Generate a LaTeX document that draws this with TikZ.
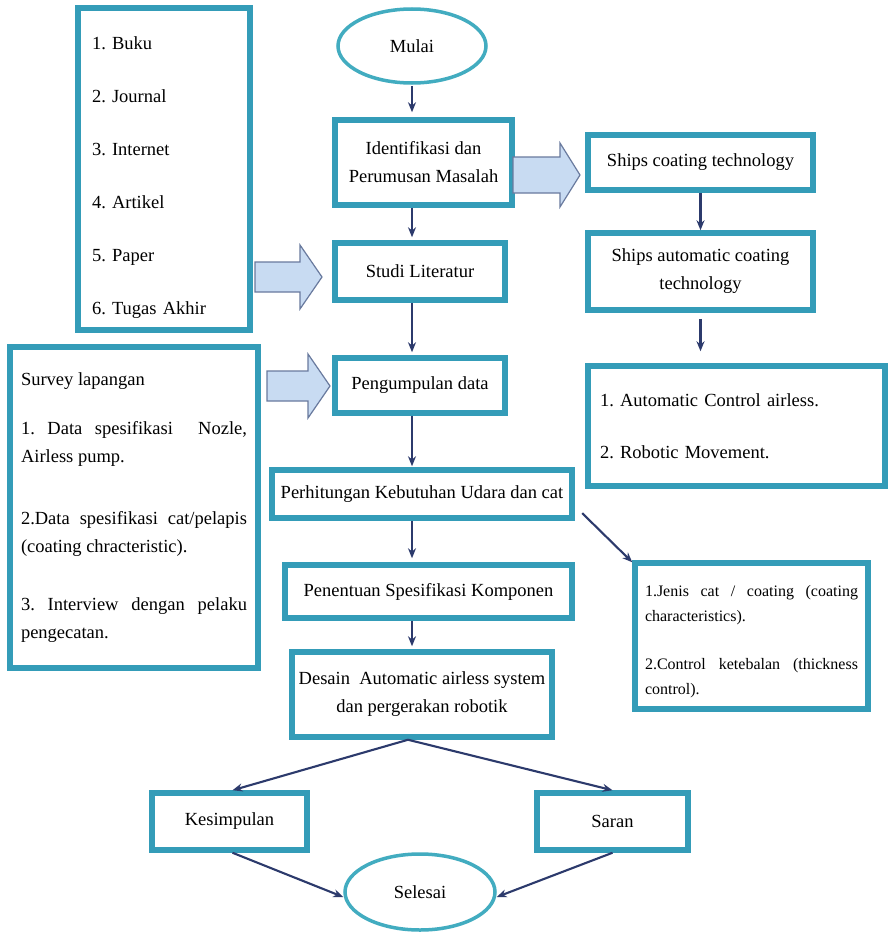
\documentclass[tikz,border=0pt]{standalone}
\usepackage{fontspec}
\setmainfont{Liberation Serif}
\usetikzlibrary{arrows.meta,shapes.geometric}
\definecolor{teal1}{RGB}{52,156,184}
\definecolor{teal2}{RGB}{66,172,192}
\definecolor{navy}{RGB}{44,58,108}
\definecolor{bafill}{RGB}{200,219,242}
\definecolor{badraw}{RGB}{105,122,158}
\frenchspacing
\tikzset{
  boxnode/.style={draw=teal1, line width=5.5pt, fill=white, rectangle, align=center, inner sep=4pt,
    font=\fontsize{18.5}{28}\selectfont},
  ovalnode/.style={draw=teal2, line width=3.5pt, fill=white, ellipse, inner sep=0pt,
    font=\fontsize{18.5}{22}\selectfont},
  flowarrow/.style={draw=navy, line width=2.1pt, -{Stealth[length=10pt,width=8pt]}},
  blockarrow/.style={draw=badraw, line width=1.2pt, fill=bafill, line join=miter},
}
\newcommand{\bigarrow}[5]{% x0, xhead, xtip, yc, body half
  \path[blockarrow] (#1,#4-#5) -- (#2,#4-#5) -- (#2,#4-32) -- (#3,#4) -- (#2,#4+32) -- (#2,#4+#5) -- (#1,#4+#5) -- cycle;}
\begin{document}
\begin{tikzpicture}[x=1pt,y=-1pt]
\useasboundingbox[fill=white] (0,0) rectangle (888,934);

% left boxes
\node[boxnode, align=left, text width=144pt, inner xsep=14pt, minimum height=322pt,
  font=\fontsize{18.5}{22}\selectfont] (sources) at (164,169)
  {\rule{0pt}{29pt}1. Buku\\[31pt] 2. Journal\\[31pt] 3. Internet\\[31pt] 4. Artikel\\[31pt] 5. Paper\\[31pt] 6. Tugas Akhir};

\node[boxnode, align=justify, text width=226pt, inner xsep=11pt, minimum height=321pt,
  font=\fontsize{18.5}{28}\selectfont] (survey) at (134,507.5)
  {Survey lapangan\\[21pt]
   1. Data spesifikasi \ Nozle,\linebreak Airless pump.\\[34pt]
   2.Data spesifikasi cat/pelapis\linebreak (coating chracteristic).\\[30pt]
   3. Interview dengan pelaku\linebreak pengecatan.};

% main column
\node[ovalnode, minimum width=148pt, minimum height=74pt] (mulai) at (412,46) {Mulai};
\node[boxnode, minimum width=177pt, minimum height=85pt] (ident) at (423.5,162.5) {Identifikasi dan\\Perumusan Masalah};
\node[boxnode, minimum width=170pt, minimum height=57pt] (studi) at (420,271.5) {Studi Literatur};
\node[boxnode, minimum width=170pt, minimum height=55pt] (kumpul) at (420,385.5) {Pengumpulan data};
\node[boxnode, minimum width=300pt, minimum height=48pt] (hitung) at (422,494) {Perhitungan Kebutuhan Udara dan cat};
\node[boxnode, minimum width=287pt, minimum height=53pt] (tentu) at (428.5,591.5) {Penentuan Spesifikasi Komponen};
\node[boxnode, minimum width=260pt, minimum height=85pt] (desain) at (422,694.5) {Desain \ Automatic airless system\\dan pergerakan robotik};
\node[boxnode, minimum width=155pt, minimum height=57pt] (simpul) at (229.5,821.5) {Kesimpulan};
\node[boxnode, minimum width=151pt, minimum height=57pt] (saran) at (612.5,821.5) {Saran};
\node[ovalnode, minimum width=150pt, minimum height=76pt] (selesai) at (420,892) {Selesai};

% right column
\node[boxnode, minimum width=225pt, minimum height=55pt] (ships1) at (700.5,162.5) {Ships coating technology};
\node[boxnode, minimum width=225pt, minimum height=77pt] (ships2) at (700.5,271.5) {Ships automatic coating\\technology};
\node[boxnode, align=left, text width=273pt, inner xsep=12pt, minimum height=120pt,
  font=\fontsize{18.5}{22}\selectfont] (auto) at (736.5,426)
  {1. Automatic Control airless.\\[30pt] 2. Robotic Movement.};
\node[boxnode, align=justify, text width=213pt, inner xsep=10pt, minimum height=146pt,
  font=\fontsize{16}{25}\selectfont] (jenis) at (751.5,636)
  {\rule{0pt}{23pt}1.Jenis cat / coating (coating\linebreak characteristics).\\[23pt]
   2.Control ketebalan (thickness\linebreak control).};

% block arrows
\bigarrow{513}{560}{580}{175}{18}
\bigarrow{255}{300}{322}{277}{15}
\bigarrow{267}{308}{330}{386}{15}

% connectors
\draw[flowarrow, shorten <=1pt, shorten >=5pt] (mulai.south) -- (mulai.south |- ident.north);
\draw[flowarrow, shorten >=3pt] (ident.south -| mulai.south) -- (studi.north -| mulai.south);
\draw[flowarrow, shorten >=3pt] (studi.south -| mulai.south) -- (kumpul.north -| mulai.south);
\draw[flowarrow, shorten >=1pt] (kumpul.south -| mulai.south) -- (hitung.north -| mulai.south);
\draw[flowarrow, shorten >=4pt] (hitung.south -| mulai.south) -- (tentu.north -| mulai.south);
\draw[flowarrow, shorten >=3pt] (tentu.south -| mulai.south) -- (desain.north -| mulai.south);
\draw[flowarrow] (ships1.south) -- (ships2.north);
\draw[flowarrow, shorten <=6pt, shorten >=12pt] (ships2.south) -- (auto.north -| ships2.south);
\draw[flowarrow, shorten <=2pt] ([xshift=6pt,yshift=9pt]hitung.south east) -- ([yshift=-2pt]jenis.north west);
\draw[flowarrow] ([xshift=-14pt]desain.south) -- ([xshift=3pt]simpul.north);
\draw[flowarrow] ([xshift=-14pt]desain.south) -- (saran.north);
\draw[flowarrow] ([xshift=3pt]simpul.south) -- ([yshift=-5pt]selesai.west);
\draw[flowarrow] (saran.south) -- ([yshift=-5pt]selesai.east);
\end{tikzpicture}
\end{document}
